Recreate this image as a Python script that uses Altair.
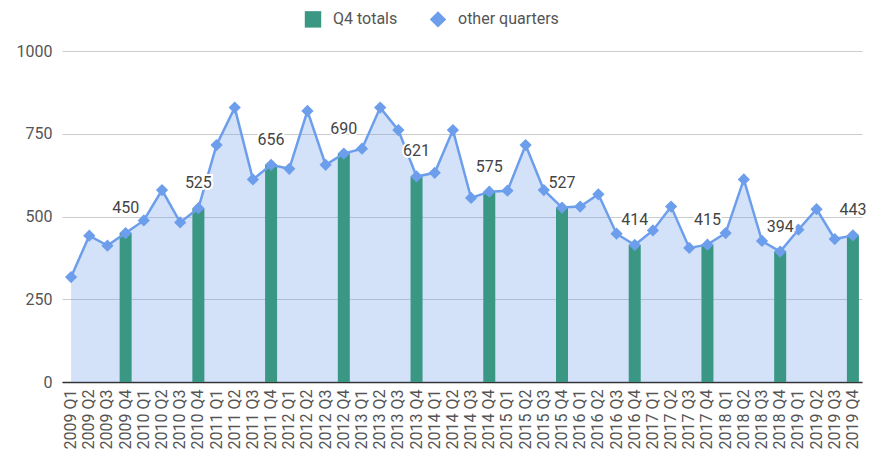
import altair as alt
import pandas as pd

years = list(range(2009, 2020))
quarters = [f"{y} Q{q}" for y in years for q in range(1, 5)]
values = [
    317, 442, 412, 450,
    488, 580, 482, 525,
    716, 829, 612, 656,
    644, 819, 656, 690,
    705, 829, 761, 621,
    632, 761, 556, 575,
    578, 716, 580, 527,
    530, 567, 448, 414,
    458, 530, 405, 415,
    450, 612, 426, 394,
    460, 522, 432, 443,
]
series_names = ["Q4 totals", "other quarters"]
series_colors = ["#3a9784", "#6d9eeb"]
series_shapes = ["square", "diamond"]

df = pd.DataFrame({"quarter": quarters, "value": values})
df["isQ4"] = df["quarter"].str.endswith("Q4")
df["series"] = "other quarters"
q4 = df[df["isQ4"]]

FONT = "Roboto"

x = alt.X("quarter:N", sort=quarters,
          scale=alt.Scale(paddingInner=0.34, paddingOuter=0.17),
          axis=alt.Axis(title=None, labelAngle=-90, ticks=False,
                        domainColor="#333333", domainWidth=1.5,
                        labelFontSize=16, labelColor="#555555", labelPadding=7,
                        labelFont=FONT))
y = alt.Y("value:Q",
          scale=alt.Scale(domain=[0, 1000]),
          axis=alt.Axis(title=None, values=[0, 250, 500, 750, 1000], ticks=False,
                        format="d",
                        domain=False, gridColor="#cccccc", labelFontSize=16,
                        labelColor="#555555", labelPadding=10, labelFont=FONT))

base = alt.Chart(df)

area = base.mark_area(color="#6d9eeb", opacity=0.3).encode(x=x, y=y)
bars = alt.Chart(q4).mark_bar(color="#3a9784").encode(x=x, y=y)
line = base.mark_line(color="#6d9eeb", strokeWidth=2.5).encode(x=x, y=y)
points = base.mark_point(filled=True, size=150, opacity=1).encode(
    x=x, y=y,
    color=alt.Color("series:N", scale=alt.Scale(domain=series_names, range=series_colors),
                    legend=alt.Legend(title=None, orient="none", direction="horizontal",
                                      legendX=242, legendY=-41, labelFontSize=16,
                                      labelColor="#555555", labelFont=FONT,
                                      symbolSize=270, columnPadding=31, labelOffset=11,
                                      symbolOpacity=1)),
    shape=alt.Shape("series:N", scale=alt.Scale(domain=series_names, range=series_shapes),
                    legend=None),
)
halo = alt.Chart(q4).mark_text(dy=-25, fontSize=16, font=FONT, stroke="white",
                               strokeWidth=4, color="white").encode(
    x=x, y=y, text=alt.Text("value:Q"))
labels = alt.Chart(q4).mark_text(dy=-25, fontSize=16, font=FONT, color="#444444").encode(
    x=x, y=y, text=alt.Text("value:Q"))

chart = alt.layer(area, bars, line, points, halo, labels).properties(
    width=800, height=331,
    autosize=alt.AutoSizeParams(type="none"),
    padding={"left": 54, "top": 43, "right": 7, "bottom": 70},
).configure_view(stroke=None)

chart.save("out.html", embed_options={"renderer": "svg", "actions": False})
